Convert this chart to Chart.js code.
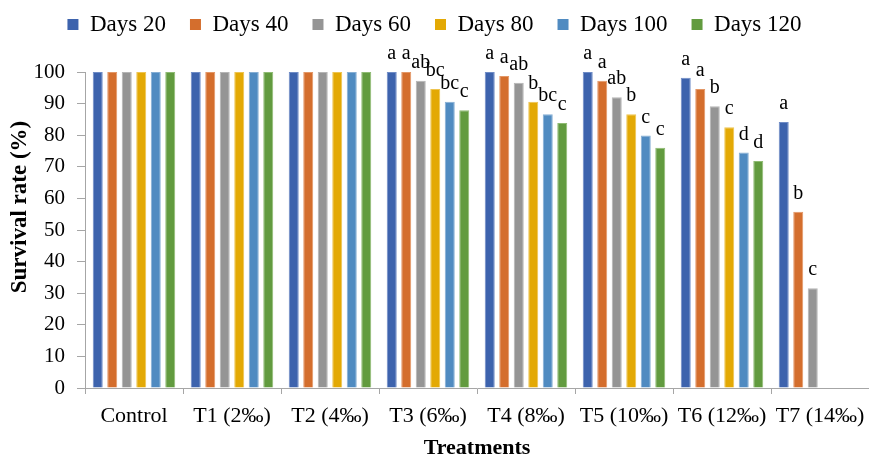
<!DOCTYPE html>
<html>
<head>
<meta charset="utf-8">
<script src="https://cdn.jsdelivr.net/npm/chart.js@4/dist/chart.umd.min.js"></script>
<style>
  html, body { margin: 0; padding: 0; background: #fff; }
  #wrap { width: 869px; height: 458px; position: relative; }
</style>
</head>
<body>
<div id="wrap"><canvas id="survivalChart"></canvas></div>
<script>
// 資料
const treatments = ['Control', 'T1 (2‰)', 'T2 (4‰)', 'T3 (6‰)', 'T4 (8‰)', 'T5 (10‰)', 'T6 (12‰)', 'T7 (14‰)'];
const seriesNames = ['Days 20', 'Days 40', 'Days 60', 'Days 80', 'Days 100', 'Days 120'];

const days20  = [100, 100, 100, 100, 100, 100, 98.2, 84.2];
const days40  = [100, 100, 100, 100, 98.7, 97.2, 94.6, 55.8];
const days60  = [100, 100, 100, 97.2, 96.6, 92.0, 89.2, 31.6];
const days80  = [100, 100, 100, 94.6, 90.6, 86.6, 82.5, null];
const days100 = [100, 100, 100, 90.6, 86.6, 79.9, 74.5, null];
const days120 = [100, 100, 100, 87.9, 83.9, 76.0, 71.8, null];

// 顯著性字母
const letters20  = ['', '', '', 'a', 'a', 'a', 'a', 'a'];
const letters40  = ['', '', '', 'a', 'a', 'a', 'a', 'b'];
const letters60  = ['', '', '', 'ab', 'ab', 'ab', 'b', 'c'];
const letters80  = ['', '', '', 'bc', 'b', 'b', 'c', ''];
const letters100 = ['', '', '', 'bc', 'bc', 'c', 'd', ''];
const letters120 = ['', '', '', 'c', 'c', 'c', 'd', ''];

const yTicks = [0, 10, 20, 30, 40, 50, 60, 70, 80, 90, 100];

const colors = ['#3d63ad', '#d46e2d', '#959595', '#e3a905', '#508bc1', '#629b3f'];
const edgeColors = ['#6f8cc6', '#e39766', '#b5b5b5', '#eec44f', '#85aed4', '#8fbb73'];

const allValues = [days20, days40, days60, days80, days100, days120];
const allLetters = [letters20, letters40, letters60, letters80, letters100, letters120];

const serif = "'Liberation Serif', 'Times New Roman', serif";
const axisGray = '#a6a6a6';

// 在柱子上方寫字母
const letterPlugin = {
    id: 'letterPlugin',
    afterDatasetsDraw(chart) {
        const ctx = chart.ctx;
        ctx.save();
        ctx.font = '20px ' + serif;
        ctx.fillStyle = '#000';
        ctx.textAlign = 'center';
        ctx.textBaseline = 'alphabetic';
        chart.data.datasets.forEach((ds, i) => {
            const meta = chart.getDatasetMeta(i);
            meta.data.forEach((bar, j) => {
                const txt = allLetters[i][j];
                if (!txt || ds.data[j] == null) return;
                ctx.fillText(txt, bar.x, bar.y - 13);
            });
        });
        ctx.restore();
    }
};

// Y 軸標題（位置比置中略高）
const yTitlePlugin = {
    id: 'yTitle',
    afterDraw(chart) {
        const ctx = chart.ctx;
        ctx.save();
        ctx.translate(20, 207);
        ctx.rotate(-Math.PI / 2);
        ctx.font = 'bold 23px ' + serif;
        ctx.fillStyle = '#000';
        ctx.textAlign = 'center';
        ctx.textBaseline = 'middle';
        ctx.fillText('Survival rate (%)', 0, 0);
        ctx.restore();
    }
};

// 固定圖例高度，讓繪圖區從 y=72 開始
const legendHeightPlugin = {
    id: 'legendHeight',
    afterInit(chart) {
        const lg = chart.legend;
        if (!lg) return;
        const fit0 = lg.fit;
        lg.fit = function() {
            fit0.call(this);
            this.height = 83;
        };
    }
};

const ctx = document.getElementById('survivalChart').getContext('2d');
new Chart(ctx, {
    type: 'bar',
    data: {
        labels: treatments,
        datasets: seriesNames.map((name, i) => ({
            label: name,
            data: allValues[i],
            backgroundColor: colors[i],
            borderColor: edgeColors[i],
            borderWidth: 1,
            categoryPercentage: 0.888,
            barPercentage: 0.69
        }))
    },
    options: {
        responsive: true,
        maintainAspectRatio: false,
        animation: false,
        layout: { padding: { left: 0, right: 0, top: -11, bottom: 0 } },
        plugins: {
            legend: {
                position: 'top',
                labels: {
                    boxWidth: 11,
                    boxHeight: 11,
                    padding: 24,
                    color: '#000',
                    font: { family: serif, size: 23 },
                    generateLabels(chart) {
                        return chart.data.datasets.map((ds, i) => ({
                            text: ds.label,
                            fillStyle: colors[i],
                            strokeStyle: colors[i],
                            lineWidth: 0,
                            datasetIndex: i
                        }));
                    }
                }
            },
            tooltip: { enabled: false }
        },
        scales: {
            x: {
                grid: {
                    drawOnChartArea: false,
                    drawTicks: true,
                    tickLength: 6,
                    color: axisGray,
                    offset: true
                },
                border: { color: axisGray, width: 1 },
                ticks: {
                    color: '#000',
                    padding: 9,
                    maxRotation: 0,
                    autoSkip: false,
                    font: { family: serif, size: 22 }
                },
                title: {
                    display: true,
                    text: 'Treatments',
                    color: '#000',
                    padding: { top: 0, bottom: -1 },
                    font: { family: serif, size: 22, weight: 'bold', lineHeight: 1 }
                },
                afterFit(scale) {
                    scale.height = 70;
                    scale.paddingLeft = 0;
                    scale.paddingRight = 0;
                }
            },
            y: {
                min: 0,
                max: 100,
                afterBuildTicks(scale) {
                    scale.ticks = yTicks.map(v => ({ value: v }));
                },
                grid: {
                    drawOnChartArea: false,
                    drawTicks: true,
                    tickLength: 8,
                    color: axisGray
                },
                border: { color: axisGray, width: 1 },
                ticks: {
                    color: '#000',
                    padding: 12,
                    font: { family: serif, size: 21 }
                },
                afterFit(scale) { scale.width = 85; }
            }
        }
    },
    plugins: [letterPlugin, yTitlePlugin, legendHeightPlugin]
});
</script>
</body>
</html>
